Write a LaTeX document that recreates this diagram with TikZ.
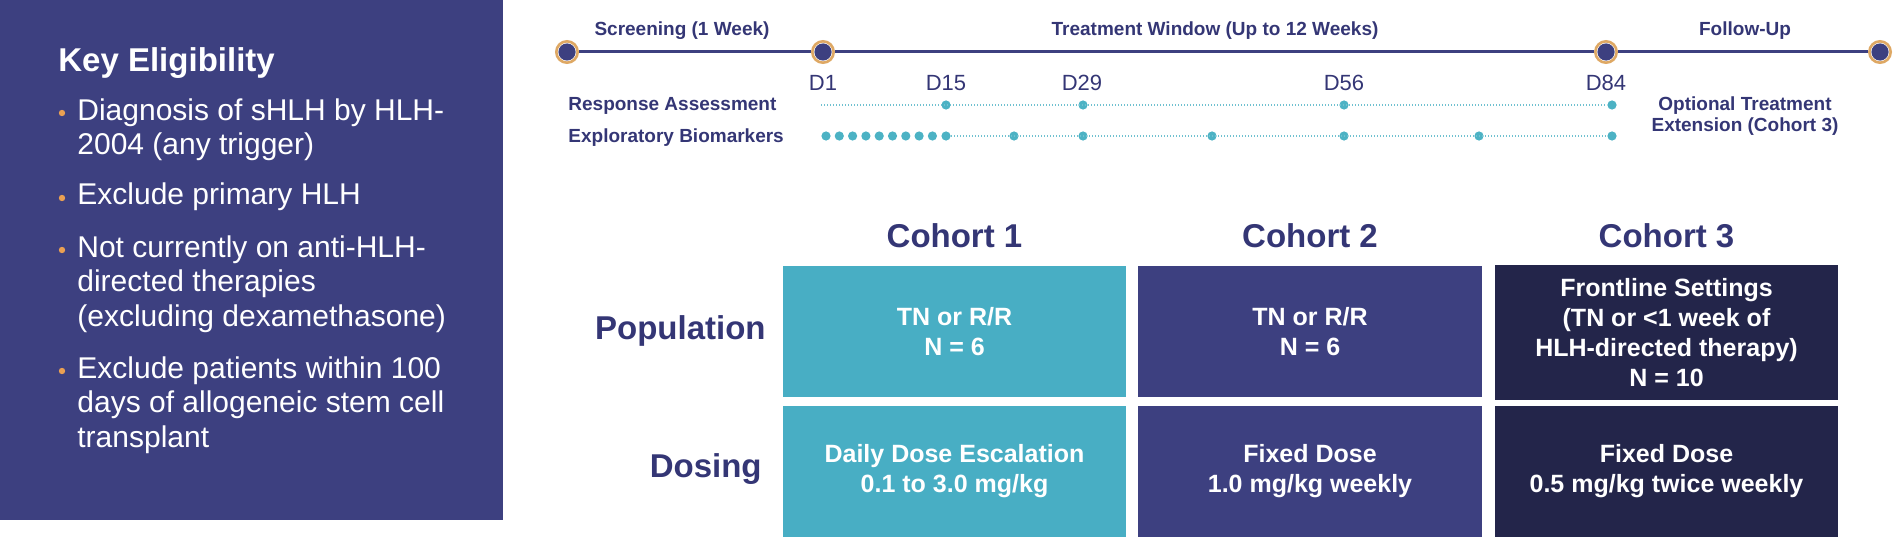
\documentclass[tikz,border=0pt]{standalone}
\usepackage{fontspec}
\setmainfont{Liberation Sans}
\definecolor{panelblue}{RGB}{61,64,128}
\definecolor{navytext}{RGB}{52,54,117}
\definecolor{tealbox}{RGB}{72,174,196}
\definecolor{darknavy}{RGB}{35,37,74}
\definecolor{ringorange}{RGB}{222,168,100}
\definecolor{bulletorange}{RGB}{234,160,82}
\definecolor{dotteal}{RGB}{76,178,196}
\tikzset{
  milestone/.style={circle,fill=white,draw=ringorange,line width=1.3pt,minimum size=10.7pt,inner sep=0pt,
    path picture={\fill[panelblue] (path picture bounding box.center) circle (4.3pt);}},
  visit/.style={circle,fill=dotteal,minimum size=4.6pt,inner sep=0pt},
  visitline/.style={dotteal!80,line width=0.6pt,dash pattern=on 0.6pt off 0.9pt},
  phase/.style={font=\bfseries\fontsize{9.5}{10.5}\selectfont,text=navytext,inner sep=0pt},
  daylbl/.style={font=\fontsize{11}{13}\selectfont,text=navytext,inner sep=0pt},
  head/.style={font=\bfseries\fontsize{16.5}{20}\selectfont,text=navytext,inner sep=0pt},
  cell/.style={minimum width=171.5pt,minimum height=65.5pt,inner sep=0pt,text=white,align=center,
    font=\bfseries\fontsize{12.5}{15}\selectfont},
  bullet/.style={circle,fill=bulletorange,minimum size=3.2pt,inner sep=0pt},
  itemtext/.style={anchor=base west,align=left,inner sep=0pt,text=white,font=\fontsize{15}{17.25}\selectfont}
}
\begin{document}
\begin{tikzpicture}[x=0.5pt,y=-0.5pt]
\useasboundingbox (0,0) rectangle (1895,540);

% eligibility panel (multi-line nodes sit on their last baseline)
\fill[panelblue] (0,0) rectangle (503,520);
\node[anchor=base west,inner sep=0pt,text=white,font=\bfseries\fontsize{16.5}{20}\selectfont] (keyelig) at (58,72) {Key Eligibility};
\node[bullet] (b1) at (62,113) {};
\node[itemtext] (i1) at (77,155) {Diagnosis of sHLH by HLH-\\2004 (any trigger)};
\node[bullet] (b2) at (62,198) {};
\node[itemtext] (i2) at (77,205) {Exclude primary HLH};
\node[bullet] (b3) at (62,250) {};
\node[itemtext] (i3) at (77,326) {Not currently on anti-HLH-\\directed therapies\\(excluding dexamethasone)};
\node[bullet] (b4) at (62,371) {};
\node[itemtext] (i4) at (77,447) {Exclude patients within 100\\days of allogeneic stem cell\\transplant};

% timeline
\node[milestone] (c0) at (567,52) {};
\node[milestone] (c1) at (823,52) {};
\node[milestone] (c2) at (1606,52) {};
\node[milestone] (c3) at (1880,52) {};
\draw[panelblue,line width=1.5pt] (c0)--(c1)--(c2)--(c3);

\node[phase,anchor=base] (screen) at (682,36) {Screening (1 Week)};
\node[phase,anchor=base] (treat) at (1215,36) {Treatment Window (Up to 12 Weeks)};
\node[phase,anchor=base] (follow) at (1745,36) {Follow-Up};

\node[daylbl,anchor=base] (day1) at (823,91) {D1};
\node[daylbl,anchor=base] (day15) at (946,91) {D15};
\node[daylbl,anchor=base] (day29) at (1082,91) {D29};
\node[daylbl,anchor=base] (day56) at (1344,91) {D56};
\node[daylbl,anchor=base] (day84) at (1606,91) {D84};

\node[phase,anchor=base west] (resp) at (568,111) {Response Assessment};
\node[phase,anchor=base west] (explo) at (568,142) {Exploratory Biomarkers};
\node[phase,align=center,anchor=base] (optext) at (1745,132) {Optional Treatment\\Extension (Cohort 3)};

% response assessment visits
\coordinate (rstart) at (821,105);
\node[visit] (r15) at (946,105) {};
\node[visit] (r29) at (1083,105) {};
\node[visit] (r56) at (1344,105) {};
\node[visit] (r84) at (1612,105) {};
\draw[visitline] (rstart)--(r84);

% biomarker visits
\node[visit] (e1) at (826,136) {};
\node[visit] (e2) at (839.3,136) {};
\node[visit] (e3) at (852.6,136) {};
\node[visit] (e4) at (865.9,136) {};
\node[visit] (e5) at (879.2,136) {};
\node[visit] (e6) at (892.5,136) {};
\node[visit] (e7) at (905.8,136) {};
\node[visit] (e8) at (919.1,136) {};
\node[visit] (e9) at (932.4,136) {};
\node[visit] (e10) at (946,136) {};
\node[visit] (e22) at (1014,136) {};
\node[visit] (e29) at (1083,136) {};
\node[visit] (e43) at (1212,136) {};
\node[visit] (e56) at (1344,136) {};
\node[visit] (e70) at (1479,136) {};
\node[visit] (e84) at (1612,136) {};
\draw[visitline] (e10)--(e84);

% cohorts
\node[head,anchor=base] (h1) at (954.5,247) {Cohort 1};
\node[head,anchor=base] (h2) at (1310,247) {Cohort 2};
\node[head,anchor=base] (h3) at (1666.5,247) {Cohort 3};
\node[head,anchor=base east] (poplabel) at (766,339) {Population};
\node[head,anchor=base east] (doselabel) at (762,477) {Dosing};

\node[cell,fill=tealbox] (pop1) at (954.5,331.5) {TN or R/R\\N = 6};
\node[cell,fill=panelblue,minimum width=172pt] (pop2) at (1310,331.5) {TN or R/R\\N = 6};
\node[cell,fill=darknavy,minimum height=67.5pt] (pop3) at (1666.5,332.5) {Frontline Settings\\(TN or <1 week of\\HLH-directed therapy)\\N = 10};
\node[cell,fill=tealbox] (dose1) at (954.5,471.5) {Daily Dose Escalation\\0.1 to 3.0 mg/kg};
\node[cell,fill=panelblue,minimum width=172pt] (dose2) at (1310,471.5) {Fixed Dose\\1.0 mg/kg weekly};
\node[cell,fill=darknavy] (dose3) at (1666.5,471.5) {Fixed Dose\\0.5 mg/kg twice weekly};

\end{tikzpicture}
\end{document}
